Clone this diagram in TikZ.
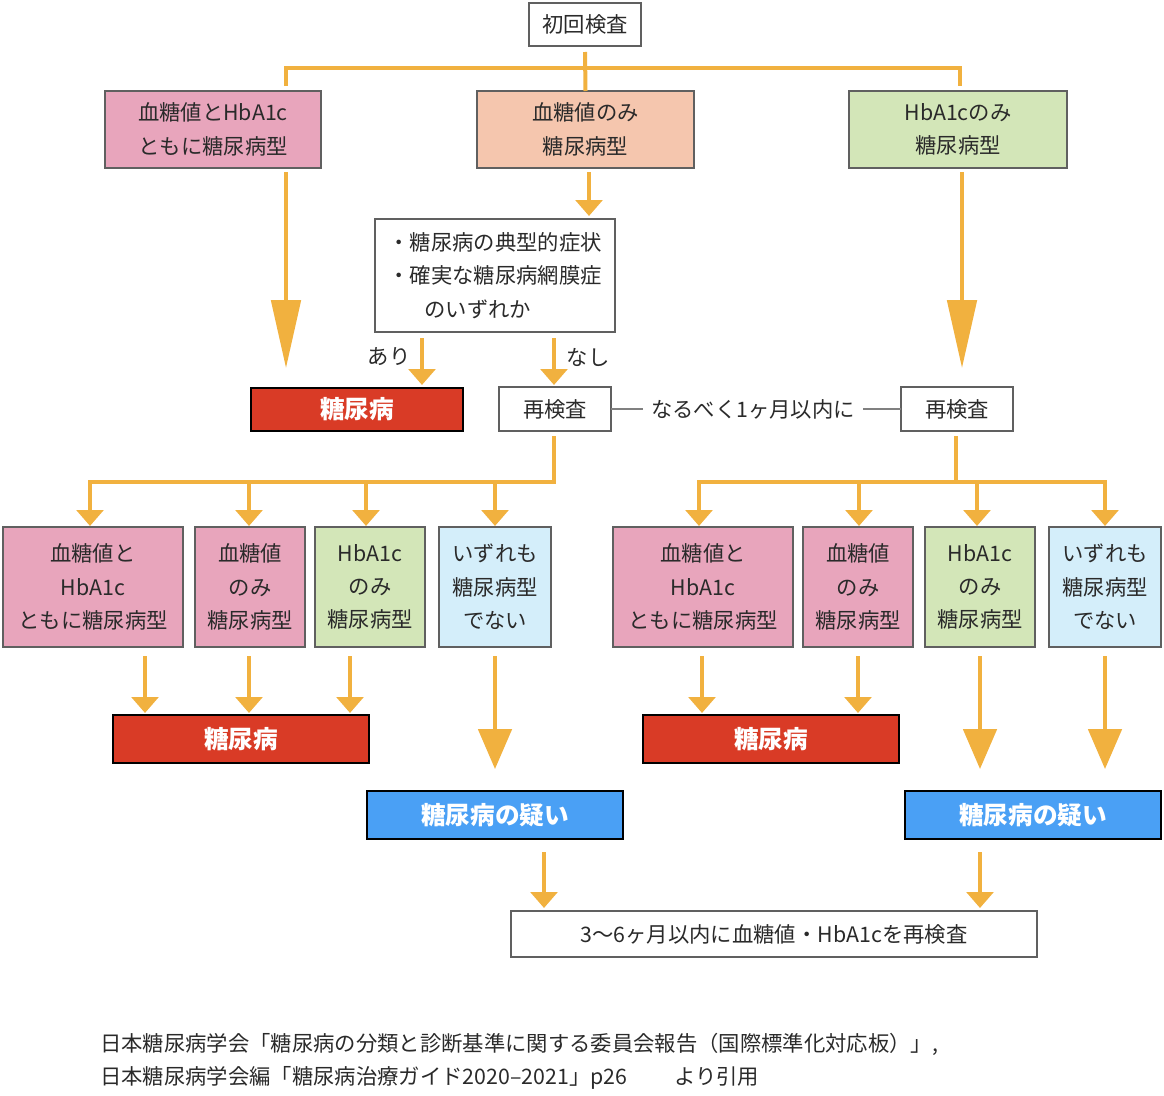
\documentclass[tikz,border=0pt]{standalone}
\usepackage{fontspec}
\setmainfont{Noto Sans CJK JP}
\usetikzlibrary{arrows.meta,calc}
\definecolor{org}{HTML}{F1B13F}
\definecolor{pinkc}{HTML}{E8A5BC}
\definecolor{peachc}{HTML}{F5C6AE}
\definecolor{greenc}{HTML}{D3E6B8}
\definecolor{bluec}{HTML}{D4EEFA}
\definecolor{redc}{HTML}{D93B26}
\definecolor{blued}{HTML}{4AA0F5}
\definecolor{txt}{HTML}{2A2A2A}
\definecolor{bord}{HTML}{606060}
\tikzset{
  sz/.style 2 args={minimum width=#1*0.75pt, minimum height=#2*0.75pt},
  box/.style={draw=bord, line width=1.6pt, inner sep=0pt, outer sep=0pt, align=center, text=txt,
    font=\fontsize{16}{25}\selectfont},
  res/.style={draw=black, line width=2.2pt, inner sep=0pt, outer sep=0pt, text=white,
    font=\fontsize{18.5}{22}\selectfont\bfseries},
  oline/.style={draw=org, line width=3pt},
  sarr/.style={oline, -{Triangle[width=20pt,length=12pt]}},
  barr/.style={oline, -{Triangle[width=22pt,length=51pt]}},
  marr/.style={oline, -{Triangle[width=25pt,length=30pt]}},
  lbl/.style={text=txt, font=\fontsize{16}{20}\selectfont, inner sep=0pt},
  gline/.style={draw=bord!80, line width=1pt}
}
\begin{document}
\begin{tikzpicture}[x=0.75pt,y=-0.75pt]
\useasboundingbox (0,0) rectangle (1164,1096);
% top
\node[box, fill=white, sz={112}{43}] (top) at (585,24.5) {初回検査};
\node[box, fill=pinkc, sz={216}{77}] (b1) at (213,129.5) {血糖値とHbA1c\\ともに糖尿病型};
\node[box, fill=peachc, sz={217}{77}] (b2) at (585.5,129.5) {血糖値のみ\\糖尿病型};
\node[box, fill=greenc, sz={218}{77}] (b3) at (958,129.5) {HbA1cのみ\\糖尿病型};
\node[box, fill=white, sz={240}{113}] (b4) at (495,275.5) {・糖尿病の典型的症状\\・確実な糖尿病網膜症\\のいずれか\hspace*{1.6em}};
\node[res, fill=redc, sz={212}{43}] (red1) at (357,409.5) {糖尿病};
\node[box, fill=white, sz={112}{44}] (re1) at (555,409) {再検査};
\node[box, fill=white, sz={112}{44}] (re2) at (957,409) {再検査};
\node[lbl, inner xsep=6pt] (soon) at (753,409) {なるべく1ヶ月以内に};
% second row
\node[box, fill=pinkc, sz={180}{120}] (L1) at (93,587) {血糖値と\\HbA1c\\ともに糖尿病型};
\node[box, fill=pinkc, sz={110}{120}] (L2) at (250,587) {血糖値\\のみ\\糖尿病型};
\node[box, fill=greenc, sz={110}{120}] (L3) at (370,587) {HbA1c\\のみ\\糖尿病型};
\node[box, fill=bluec, sz={112}{120}] (L4) at (495,587) {いずれも\\糖尿病型\\でない};
\node[box, fill=pinkc, sz={180}{120}] (R1) at (703,587) {血糖値と\\HbA1c\\ともに糖尿病型};
\node[box, fill=pinkc, sz={110}{120}] (R2) at (858,587) {血糖値\\のみ\\糖尿病型};
\node[box, fill=greenc, sz={110}{120}] (R3) at (980,587) {HbA1c\\のみ\\糖尿病型};
\node[box, fill=bluec, sz={112}{120}] (R4) at (1105,587) {いずれも\\糖尿病型\\でない};
\node[res, fill=redc, sz={256}{48}] (red2) at (241,739) {糖尿病};
\node[res, fill=redc, sz={256}{48}] (red3) at (771,739) {糖尿病};
\node[res, fill=blued, sz={256}{48}] (blue1) at (495,815) {糖尿病の疑い};
\node[res, fill=blued, sz={256}{48}] (blue2) at (1033,815) {糖尿病の疑い};
\node[box, fill=white, sz={526}{46}] (fin) at (774,934) {3〜6ヶ月以内に血糖値・HbA1cを再検査};
% top connectors
\draw[oline] (585,52) -- (b2.north);
\draw[oline] (286,86) -- (286,68) -- (960,68) -- (960,86);
\draw[sarr] (589,172) -- (589,216);
\draw[barr] (286,172) -- (286,368);
\draw[barr] (962,172) -- (962,368);
\draw[sarr] (422,338) -- (422,385);
\draw[sarr] (554,338) -- (554,385);
\node[lbl] (ari) at (389,357) {あり};
\node[lbl] (nashi) at (588,357) {なし};
\draw[gline] (re1.east) -- (soon.west);
\draw[gline] (soon.east) -- (re2.west);
% branches
\draw[oline] (554,436) -- (554,482) -- (90,482);
\foreach \x in {90,249,366,495} \draw[sarr] (\x,480) -- (\x,526);
\draw[oline] (956,436) -- (956,482);
\draw[oline] (699,482) -- (1105,482);
\foreach \x in {699,859,977,1105} \draw[sarr] (\x,480) -- (\x,526);
% lower arrows
\foreach \x in {145,249,350,702,858} \draw[sarr] (\x,656) -- (\x,713);
\foreach \x in {495,980,1105} \draw[marr] (\x,656) -- (\x,769);
\draw[sarr] (544,852) -- (544,908);
\draw[sarr] (980,852) -- (980,908);
% footer
\node[lbl, anchor=west] (f1) at (100,1044) {日本糖尿病学会「糖尿病の分類と診断基準に関する委員会報告（国際標準化対応板）」,};
\node[lbl, anchor=west] (f2) at (100,1078) {日本糖尿病学会編「糖尿病治療ガイド2020–2021」p26\hspace{2.2em}より引用};
\end{tikzpicture}
\end{document}
